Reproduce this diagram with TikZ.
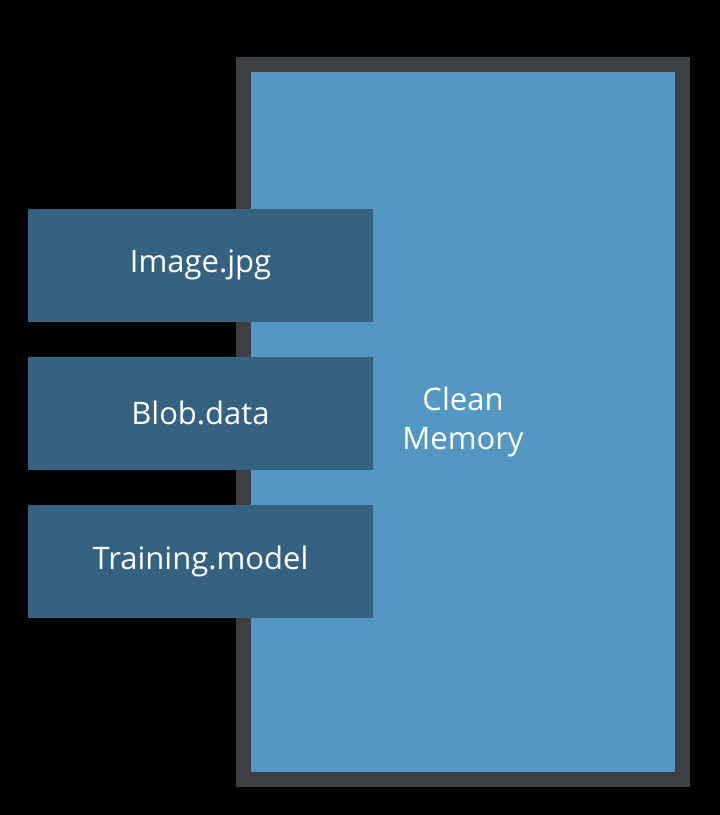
\documentclass[tikz,border=0pt]{standalone}
\usepackage{fontspec}
\setsansfont{Open Sans}
\usetikzlibrary{positioning}
\definecolor{memgray}{HTML}{3C4044}
\definecolor{memblue}{HTML}{5497C3}
\definecolor{fileblue}{HTML}{356280}

\begin{document}
\begin{tikzpicture}[x=1pt, y=-1pt,
  memory/.style={rectangle, draw=memgray, line width=15pt, fill=memblue, minimum width=439pt, minimum height=715pt, outer sep=0pt, align=center, text=white, font=\sffamily\fontsize{31}{39}\selectfont},
  file/.style={rectangle, fill=fileblue, minimum width=345pt, minimum height=113pt, outer sep=0pt, text=white, font=\sffamily\fontsize{31}{36}\selectfont},
  node distance=35pt
]

% background
\fill[black] (0,0) rectangle (720,815);

% memory block and the mapped files
\node[memory] (mem) at (463,422) {Clean\\Memory};
\node[file] (img) at (200.5,265) {Image.jpg};
\node[file, below=of img] (blob) {Blob.data};
\node[file, below=of blob] (train) {Training.model};

\end{tikzpicture}
\end{document}
